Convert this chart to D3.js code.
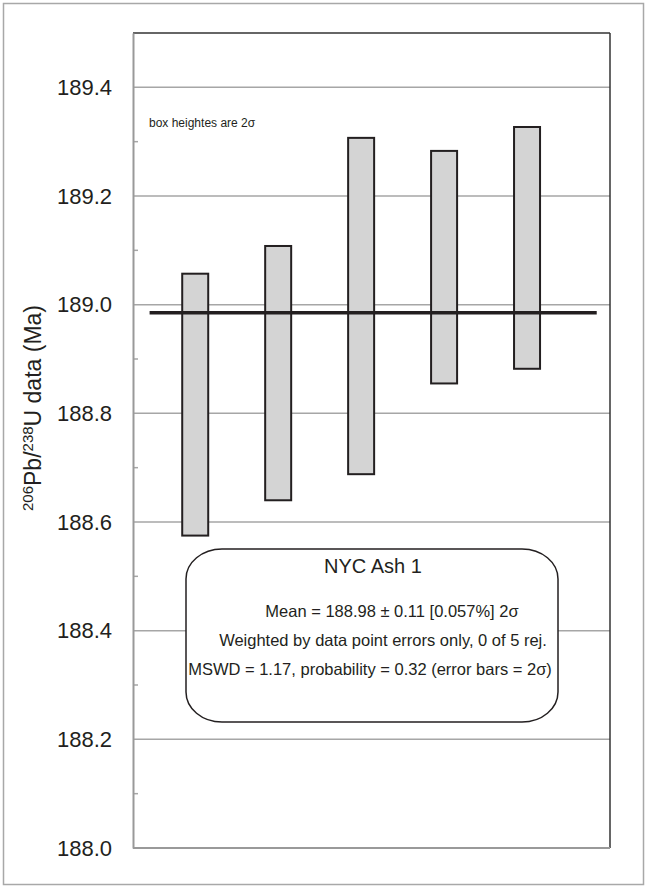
<!DOCTYPE html>
<html>
<head>
<meta charset="utf-8">
<script src="https://cdn.jsdelivr.net/npm/d3@7"></script>
<style>
  body { margin: 0; background: #fff; }
  svg { display: block; font-family: "Liberation Sans", Arial, sans-serif; }
</style>
</head>
<body>
<svg id="chart" width="646" height="886"></svg>
<script>
// spot analyses, box heights are 2 sigma
const spots = [1, 2, 3, 4, 5];
const boxLow = [188.575, 188.640, 188.688, 188.855, 188.882];
const boxHigh = [189.057, 189.108, 189.307, 189.283, 189.327];
const weightedMean = 188.985;
const meanSpan = [0.45, 5.84];
const yMajor = [188.0, 188.2, 188.4, 188.6, 188.8, 189.0, 189.2, 189.4];
const yMinor = [188.1, 188.3, 188.5, 188.7, 188.9, 189.1, 189.3];
const infoLines = [
    'Mean = 188.98 \u00b1 0.11 [0.057%] 2\u03c3',
    'Weighted by data point errors only, 0 of 5 rej.',
    'MSWD = 1.17, probability = 0.32 (error bars = 2\u03c3)'
];

const plot = { left: 133, top: 33, right: 610, bottom: 848 };
const ink = '#231f20';
const grid = '#a6a6a6';

const svg = d3.select('#chart');

svg.append('rect')
    .attr('x', 3.5).attr('y', 3.5)
    .attr('width', 640).attr('height', 881)
    .attr('fill', 'none')
    .attr('stroke', '#a8a8a8')
    .attr('stroke-width', 1.5);

const x = d3.scaleLinear().domain([0.25, 6]).range([plot.left, plot.right]);
const y = d3.scaleLinear().domain([188.0, 189.5]).range([plot.bottom, plot.top]);

// gridlines
svg.append('g')
    .selectAll('line')
    .data(yMajor.filter(v => v > 188.0))
    .join('line')
    .attr('x1', plot.left).attr('x2', plot.right)
    .attr('y1', d => y(d)).attr('y2', d => y(d))
    .attr('stroke', grid)
    .attr('stroke-width', 1.5);

// minor ticks inside the left axis
svg.append('g')
    .selectAll('line')
    .data(yMinor)
    .join('line')
    .attr('x1', plot.left).attr('x2', plot.left + 5)
    .attr('y1', d => y(d)).attr('y2', d => y(d))
    .attr('stroke', grid)
    .attr('stroke-width', 1.5);

// frame: top and right dark, left and bottom gray
svg.append('line')
    .attr('x1', plot.left).attr('x2', plot.right)
    .attr('y1', plot.top).attr('y2', plot.top)
    .attr('stroke', '#333').attr('stroke-width', 1.5);
svg.append('line')
    .attr('x1', plot.right).attr('x2', plot.right)
    .attr('y1', plot.top).attr('y2', plot.bottom)
    .attr('stroke', '#333').attr('stroke-width', 1.5);
svg.append('line')
    .attr('x1', plot.left).attr('x2', plot.right)
    .attr('y1', plot.bottom).attr('y2', plot.bottom)
    .attr('stroke', '#999').attr('stroke-width', 2);

const yAxis = svg.append('g')
    .attr('transform', `translate(${plot.left},0)`)
    .call(d3.axisLeft(y).tickValues(yMajor).tickFormat(d3.format('.1f')).tickSize(0).tickPadding(21));
yAxis.select('.domain').attr('stroke', '#999').attr('stroke-width', 2);
yAxis.selectAll('text')
    .attr('font-size', 22)
    .attr('fill', ink)
    .attr('font-family', '"Liberation Sans", Arial, sans-serif');

// axis title with superscripts
const title = svg.append('text')
    .attr('transform', 'translate(41,408) rotate(-90)')
    .attr('text-anchor', 'middle')
    .attr('font-size', 23)
    .attr('fill', ink);
title.append('tspan').attr('font-size', 15).attr('dy', -8).text('206');
title.append('tspan').attr('dy', 8).text('Pb/');
title.append('tspan').attr('font-size', 15).attr('dy', -8).text('238');
title.append('tspan').attr('dy', 8).text('U data (Ma)');

// boxes
svg.append('g')
    .selectAll('rect')
    .data(spots)
    .join('rect')
    .attr('x', d => x(d) - 13)
    .attr('width', 26)
    .attr('y', (d, i) => y(boxHigh[i]))
    .attr('height', (d, i) => y(boxLow[i]) - y(boxHigh[i]))
    .attr('fill', '#d4d4d4')
    .attr('stroke', ink)
    .attr('stroke-width', 2);

// weighted mean
svg.append('line')
    .attr('x1', x(meanSpan[0])).attr('x2', x(meanSpan[1]))
    .attr('y1', y(weightedMean)).attr('y2', y(weightedMean))
    .attr('stroke', ink)
    .attr('stroke-width', 3.5);

svg.append('text')
    .attr('x', 149).attr('y', 127)
    .attr('font-size', 12)
    .attr('fill', ink)
    .text('box heightes are 2\u03c3');

// info box
const info = svg.append('g');
info.append('rect')
    .attr('x', 186).attr('y', 549)
    .attr('width', 372).attr('height', 173)
    .attr('rx', 36).attr('ry', 30)
    .attr('fill', '#fff')
    .attr('stroke', ink)
    .attr('stroke-width', 1.5);
info.append('text')
    .attr('x', 373).attr('y', 573)
    .attr('text-anchor', 'middle')
    .attr('font-size', 20)
    .attr('fill', ink)
    .text('NYC Ash 1');
const infoX = [392, 383, 370];
const infoY = [617, 646, 675];
info.selectAll('text.line')
    .data(infoLines)
    .join('text')
    .attr('class', 'line')
    .attr('x', (d, i) => infoX[i])
    .attr('y', (d, i) => infoY[i])
    .attr('text-anchor', 'middle')
    .attr('font-size', 16.5)
    .attr('fill', ink)
    .text(d => d);
</script>
</body>
</html>
